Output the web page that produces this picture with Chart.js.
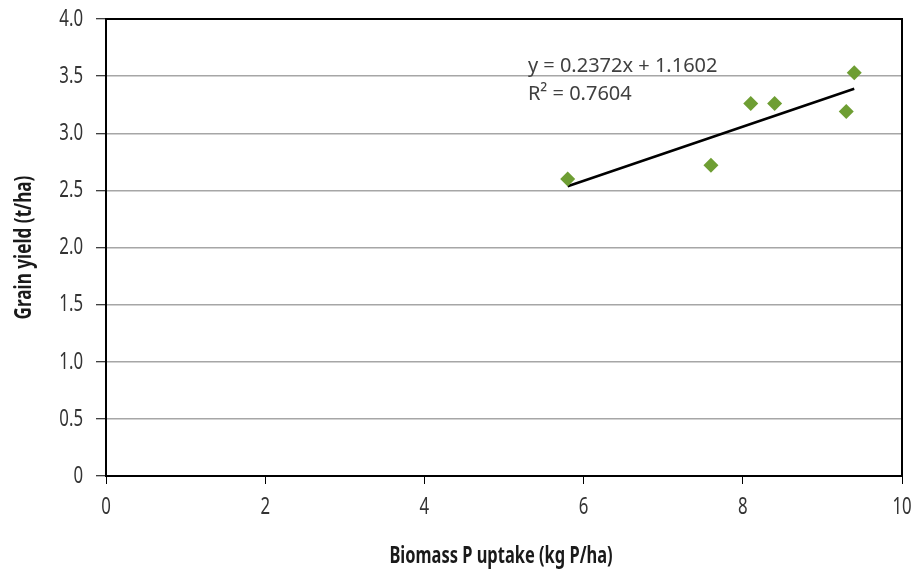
<!DOCTYPE html>
<html>
<head>
<meta charset="utf-8">
<script src="https://cdn.jsdelivr.net/npm/chart.js@4"></script>
<style>
  html, body { margin: 0; padding: 0; background: #fff; }
  #wrap { width: 916px; height: 572px; }
</style>
</head>
<body>
<div id="wrap"><canvas id="myChart" width="916" height="572"></canvas></div>
<script>
// biomass P uptake (kg P/ha) vs grain yield (t/ha)
const uptake = [5.8, 7.6, 8.1, 8.4, 9.3, 9.4];
const grainYield = [2.6, 2.72, 3.26, 3.26, 3.19, 3.53];

// linear fit as printed on the chart
const slope = 0.2372;
const intercept = 1.1602;
const rSquared = 0.7604;

const xTicks = [0, 2, 4, 6, 8, 10];
const yTicks = [0, 0.5, 1, 1.5, 2, 2.5, 3, 3.5, 4];
const xTitle = 'Biomass P uptake (kg P/ha)';
const yTitle = 'Grain yield (t/ha)';

const points = uptake.map((x, i) => ({ x: x, y: grainYield[i] }));
const xMin = Math.min(...uptake);
const xMax = Math.max(...uptake);
const fitLine = [
  { x: xMin, y: slope * xMin + intercept },
  { x: xMax, y: slope * xMax + intercept }
];

// narrow text: regular font squeezed horizontally
function squeezed(ctx, text, x, y, align, sx) {
  ctx.save();
  ctx.translate(x, y);
  ctx.scale(sx, 1);
  ctx.textAlign = align;
  ctx.fillText(text, 0, 0);
  ctx.restore();
}

// frame, tick labels, axis titles and the fit equation
const labelsPlugin = {
  id: 'labels',
  afterDatasetsDraw(chart) {
    const { ctx, chartArea: a, scales } = chart;
    ctx.save();
    ctx.strokeStyle = '#000';
    ctx.lineWidth = 2;
    ctx.strokeRect(a.left, a.top, a.right - a.left, a.bottom - a.top);

    // tick labels
    ctx.fillStyle = '#333';
    ctx.font = '24px "Noto Sans", sans-serif';
    ctx.textBaseline = 'middle';
    yTicks.forEach((v) => {
      const label = v === 0 ? '0' : v.toFixed(1);
      squeezed(ctx, label, 83, scales.y.getPixelForValue(v), 'right', 0.7);
    });
    xTicks.forEach((v) => {
      squeezed(ctx, String(v), scales.x.getPixelForValue(v), 507, 'center', 0.7);
    });

    // axis titles
    ctx.fillStyle = '#1a1a1a';
    ctx.font = 'bold 23px "Noto Sans", sans-serif';
    ctx.textBaseline = 'alphabetic';
    squeezed(ctx, xTitle, (a.left + a.right) / 2 - 3, 563, 'center', 0.715);
    ctx.save();
    ctx.translate(31, (a.top + a.bottom) / 2);
    ctx.rotate(-Math.PI / 2);
    squeezed(ctx, yTitle, 0, 0, 'center', 0.745);
    ctx.restore();

    // equation and R²
    ctx.fillStyle = '#404040';
    ctx.font = '20px "Noto Sans", sans-serif';
    const tx = scales.x.getPixelForValue(5.3);
    ctx.textAlign = 'left';
    ctx.fillText('y = ' + slope + 'x + ' + intercept, tx, 72);
    ctx.fillText('R\u00B2 = ' + rSquared, tx, 100);
    ctx.restore();
  }
};

const config = {
  type: 'scatter',
  data: {
    datasets: [
      {
        label: 'Grain yield',
        data: points,
        pointStyle: 'rectRot',
        pointRadius: 7.5,
        pointHoverRadius: 7.5,
        backgroundColor: '#6e9e33',
        borderColor: '#6e9e33',
        borderWidth: 0
      },
      {
        label: 'Linear fit',
        type: 'line',
        data: fitLine,
        borderColor: '#000',
        borderWidth: 2.5,
        pointRadius: 0,
        fill: false
      }
    ]
  },
  options: {
    responsive: false,
    animation: false,
    layout: { padding: { top: 19, right: 14, left: 0, bottom: 0 } },
    plugins: {
      legend: { display: false },
      tooltip: { enabled: false }
    },
    scales: {
      x: {
        type: 'linear',
        min: 0,
        max: 10,
        afterBuildTicks: (axis) => { axis.ticks = xTicks.map(v => ({ value: v })); },
        afterFit: (axis) => { axis.height = 96; },
        grid: {
          drawOnChartArea: false,
          drawTicks: true,
          tickLength: 8,
          tickColor: '#000',
          tickWidth: 1
        },
        border: { display: true, color: '#000', width: 2 },
        ticks: { display: false }
      },
      y: {
        type: 'linear',
        min: 0,
        max: 4,
        afterBuildTicks: (axis) => { axis.ticks = yTicks.map(v => ({ value: v })); },
        afterFit: (axis) => { axis.width = 106; },
        grid: {
          color: '#a6a6a6',
          lineWidth: 1.5,
          drawTicks: true,
          tickLength: 10,
          tickColor: '#000',
          tickWidth: 1
        },
        border: { display: true, color: '#000', width: 2 },
        ticks: { display: false }
      }
    }
  },
  plugins: [labelsPlugin]
};

const myChart = new Chart(document.getElementById('myChart'), config);
</script>
</body>
</html>
